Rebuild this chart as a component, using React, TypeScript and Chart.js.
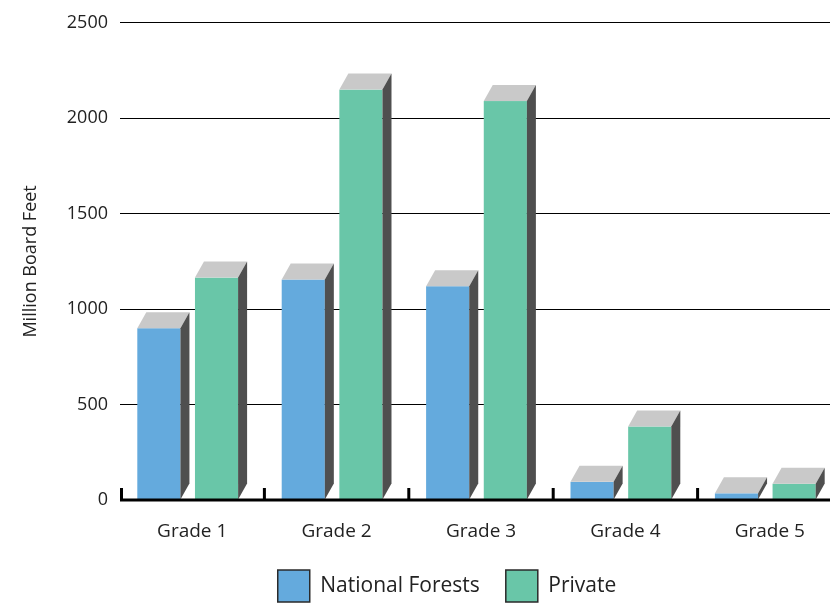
import React, { useEffect, useRef } from 'react';
import { Chart, registerables } from 'chart.js';

Chart.register(...registerables);

const categories = ['Grade 1', 'Grade 2', 'Grade 3', 'Grade 4', 'Grade 5'];
const nationalForests = [900, 1155, 1120, 95, 35];
const privateLand = [1165, 2150, 2090, 385, 85];
const seriesNames = ['National Forests', 'Private'];
const seriesColors = ['#64aadd', '#69c6a8'];
const yMax = 2500;
const yStep = 500;
const yTitle = 'Million Board Feet';

const FONT = '"Open Sans", sans-serif';
const DX = 9;
const DY = 16;
const CANVAS_W = 852;
const CANVAS_H = 612;

const bars3d = {
  id: 'bars3d',
  beforeDatasetDraw() {
    return false;
  },
  afterDatasetsDraw(chart: any) {
    const ctx = chart.ctx;
    const area = chart.chartArea;
    ctx.save();
    chart.data.datasets.forEach((ds: any, di: number) => {
      const meta = chart.getDatasetMeta(di);
      meta.data.forEach((bar: any) => {
        const { x, y, base, width } = bar.getProps(['x', 'y', 'base', 'width'], true);
        const l = x - width / 2 - DX / 2;
        const r = l + width;
        ctx.fillStyle = ds.backgroundColor;
        ctx.fillRect(l, y, width, base - y);
        ctx.fillStyle = '#c9c9c9';
        ctx.beginPath();
        ctx.moveTo(l, y);
        ctx.lineTo(l + DX, y - DY);
        ctx.lineTo(r + DX, y - DY);
        ctx.lineTo(r, y);
        ctx.closePath();
        ctx.fill();
        ctx.fillStyle = '#4f4f4f';
        ctx.beginPath();
        ctx.moveTo(r, y);
        ctx.lineTo(r + DX, y - DY);
        ctx.lineTo(r + DX, base - DY);
        ctx.lineTo(r, base);
        ctx.closePath();
        ctx.fill();
      });
    });
    const yb = chart.scales.y.getPixelForValue(0);
    ctx.fillStyle = '#000';
    ctx.fillRect(area.left, yb - 1.5, area.right - area.left, 3);
    const n = categories.length;
    const cw = (area.right - area.left) / n;
    for (let i = 0; i <= n; i++) {
      const tx = area.left + i * cw;
      ctx.fillRect(Math.max(area.left, tx - 1.5), yb - 12, 3, 12);
    }
    ctx.restore();
  },
};

const legendShift = {
  id: 'legendShift',
  afterLayout(chart: any) {
    const lg = chart.legend;
    if (lg) {
      lg.left += 52;
    }
  },
};

export default function App() {
  const ref = useRef<HTMLCanvasElement | null>(null);
  useEffect(() => {
    if (!ref.current) return;
    const chart = new Chart(ref.current, {
      type: 'bar',
      data: {
        labels: categories,
        datasets: [
          {
            label: seriesNames[0],
            data: nationalForests,
            backgroundColor: seriesColors[0],
            borderColor: '#2a2a2a',
            borderWidth: 1.5,
          },
          {
            label: seriesNames[1],
            data: privateLand,
            backgroundColor: seriesColors[1],
            borderColor: '#2a2a2a',
            borderWidth: 1.5,
          },
        ],
      },
      options: {
        responsive: false,
        animation: false,
        layout: { padding: { top: 21, right: 10, left: 0, bottom: 0 } },
        datasets: { bar: { categoryPercentage: 0.7986, barPercentage: 0.748 } },
        plugins: {
          tooltip: { enabled: false },
          legend: {
            position: 'bottom',
            labels: {
              boxWidth: 32,
              boxHeight: 32,
              padding: 26,
              color: '#222',
              font: { family: FONT, size: 21 },
            },
          },
        },
        scales: {
          x: {
            grid: { display: false, drawTicks: false },
            border: { display: false },
            ticks: { color: '#222', padding: 20, font: { family: FONT, size: 19 } },
            afterFit: (s: any) => {
              s.height = 44;
            },
          },
          y: {
            min: 0,
            max: yMax,
            grid: { color: '#000', lineWidth: 1, drawTicks: false },
            border: { display: false },
            ticks: {
              stepSize: yStep,
              color: '#222',
              padding: 12,
              font: { family: FONT, size: 18 },
              callback: (v: any) => String(v),
            },
            title: {
              display: true,
              text: yTitle,
              color: '#222',
              font: { family: FONT, size: 18 },
              padding: { top: 20, bottom: 0 },
            },
            afterFit: (s: any) => {
              s.width = 120;
            },
          },
        },
      },
      plugins: [bars3d, legendShift],
    });
    return () => chart.destroy();
  }, []);
  return (
    <div style={{ position: 'absolute', left: 0, top: 0, width: 830, height: 606, overflow: 'hidden', background: '#fff' }}>
      <canvas ref={ref} width={CANVAS_W} height={CANVAS_H} style={{ width: CANVAS_W, height: CANVAS_H, display: 'block' }} />
    </div>
  );
}
